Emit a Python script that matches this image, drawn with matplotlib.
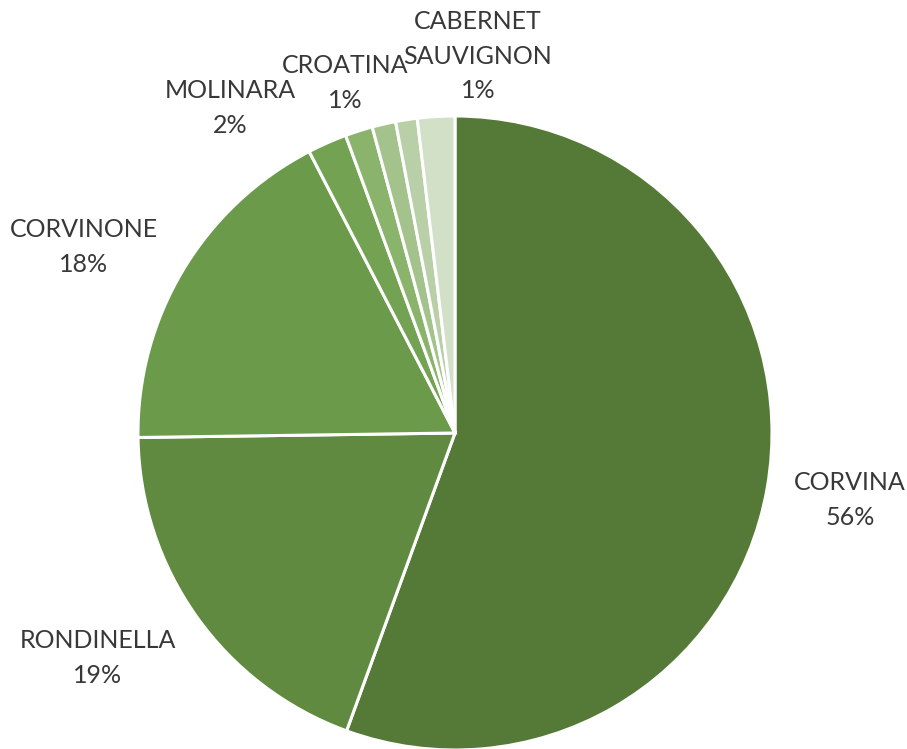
import numpy as np
import matplotlib.pyplot as plt

# Grape varieties, clockwise from the top of the pie
varieties = ['CORVINA', 'RONDINELLA', 'CORVINONE', 'MOLINARA',
             'CROATINA', 'OSELETA', 'CABERNET\nSAUVIGNON', 'ALTRI']
shares = [55.5, 19.2, 17.6, 2.0, 1.4, 1.2, 1.1, 1.9]
show_label = [True, True, True, True, True, False, True, False]

colors = ['#557a37', '#5f8a3f', '#6b9a4b', '#72a252',
          '#8ab36c', '#a3c28c', '#b8cfa7', '#d3e0c8']

# label anchor points (pixels, y measured from the top)
label_xy = [(850, 500), (98, 658), (84, 247), (230, 108),
            (345, 83), (0, 0), (478, 56), (0, 0)]

W, H = 907, 749
fig = plt.figure(figsize=(W / 100, H / 100), dpi=100)
ax = fig.add_axes([0, 0, 1, 1])
ax.set_xlim(0, W)
ax.set_ylim(0, H)
ax.set_aspect('equal')
ax.axis('off')

ax.pie(shares, colors=colors, startangle=90, counterclock=False,
       center=(455, H - 433), radius=317,
       wedgeprops=dict(edgecolor='white', linewidth=2.2))

total = sum(shares)
for name, val, shown, (x, y) in zip(varieties, shares, show_label, label_xy):
    if not shown:
        continue
    pct = int(np.floor(val / total * 100 + 0.5))
    ax.text(x, H - y, f'{name}\n{pct}%', ha='center', va='center',
            fontsize=18, family='Lato', color='#383838', linespacing=1.6)

ax.set_xlim(0, W)
ax.set_ylim(0, H)
fig.savefig('out.png', dpi=100)
